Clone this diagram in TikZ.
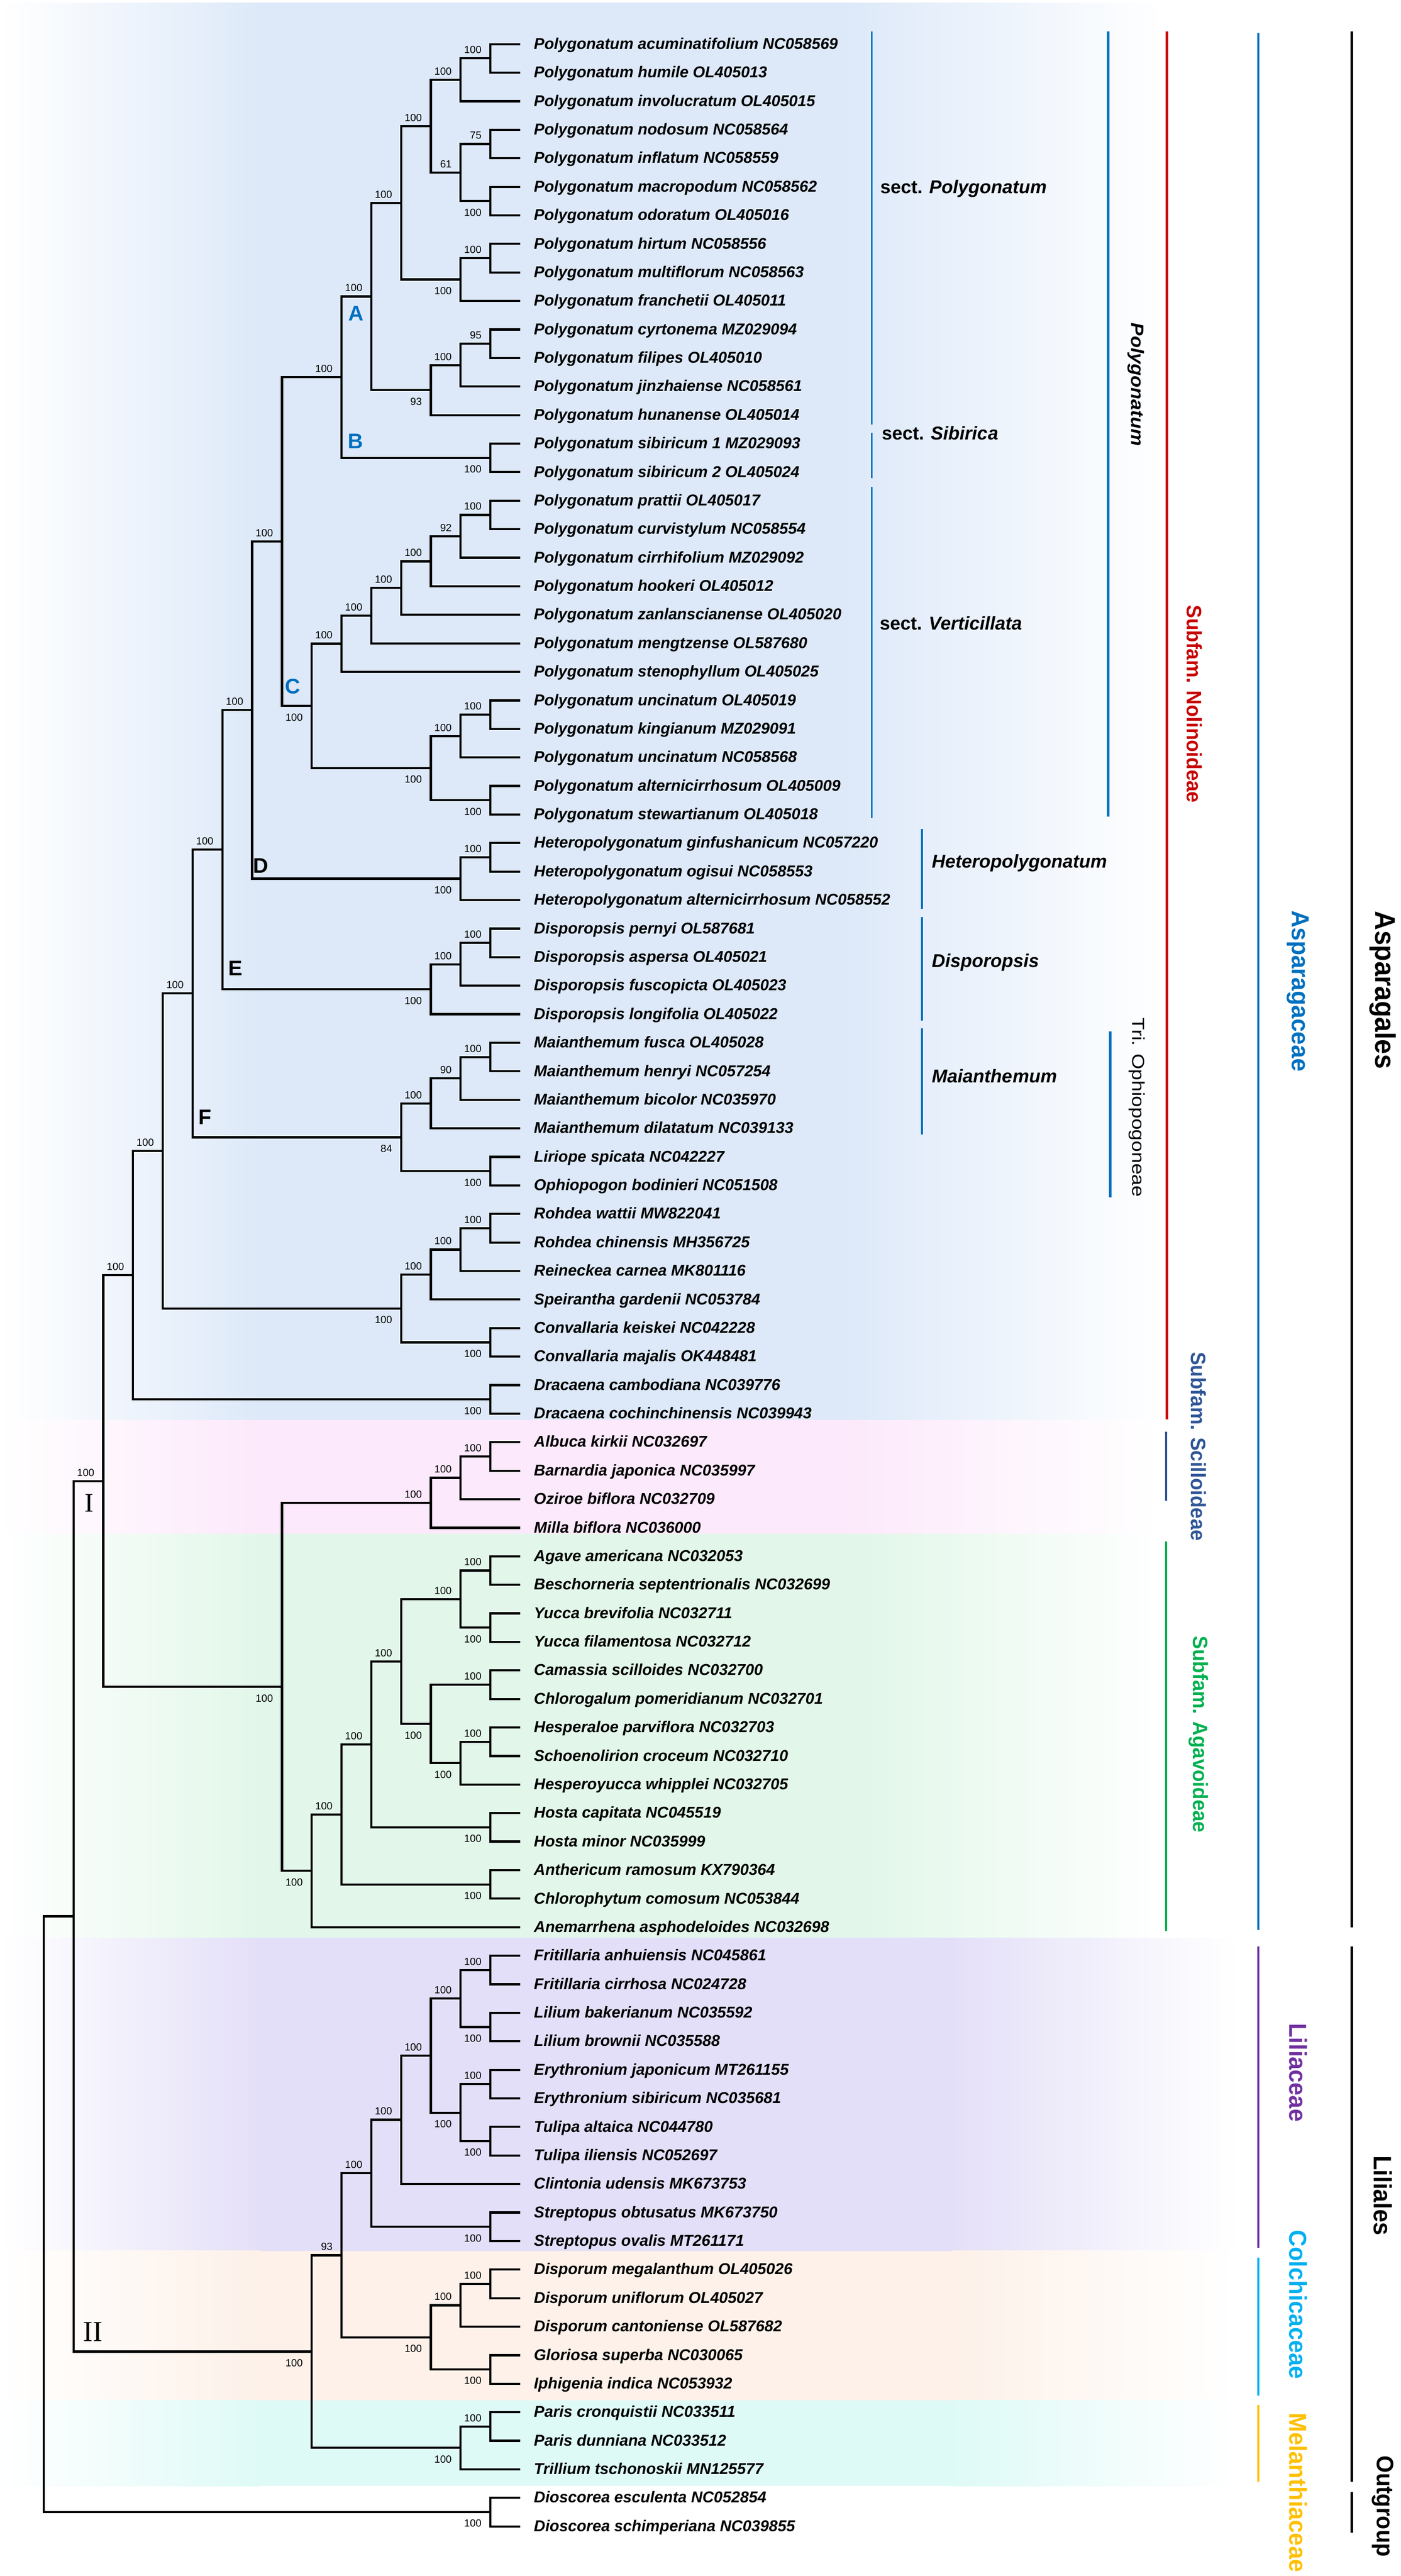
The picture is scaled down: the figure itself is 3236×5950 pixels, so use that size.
\documentclass[tikz,border=0pt]{standalone}
\usepackage{fontspec}
\usepackage{graphicx}
\setmainfont{Liberation Sans}
\newfontfamily\romfont{Liberation Serif}
\usetikzlibrary{calc}
\definecolor{bnol}{RGB}{221,233,249}
\definecolor{bscl}{RGB}{252,233,251}
\definecolor{bagv}{RGB}{226,247,233}
\definecolor{blil}{RGB}{228,223,248}
\definecolor{bcol}{RGB}{253,241,233}
\definecolor{bmel}{RGB}{222,250,247}
\definecolor{cblue}{RGB}{0,112,192}
\definecolor{cred}{RGB}{200,0,0}
\definecolor{cscl}{RGB}{47,85,151}
\definecolor{cagv}{RGB}{0,176,80}
\definecolor{clil}{RGB}{112,48,160}
\definecolor{ccol}{RGB}{0,176,240}
\definecolor{cmel}{RGB}{255,192,0}
\newcommand\bsfont{\fontsize{6.8}{8}\selectfont}
\newcommand\leaffont{\fontsize{10.33}{12}\selectfont\bfseries\itshape}
\newcommand\grpfont{\fontsize{12.2}{14}\selectfont\bfseries}
\newcommand\subfont{\fontsize{13.7}{16}\selectfont\bfseries}
\newcommand\famfont{\fontsize{16.1}{18}\selectfont\bfseries}
\newcommand\ltrfont{\fontsize{13.9}{16}\selectfont\bfseries}
\tikzset{
  br/.style={line width=0.5mm, line join=miter, line cap=butt},
  leaf/.style={anchor=base west, inner sep=0, font=\leaffont},
  bsa/.style={anchor=south east, inner sep=0, xshift=-2mm, yshift=1.05mm, font=\bsfont},
  bsb/.style={anchor=north east, inner sep=0, xshift=-2mm, yshift=-1.7mm, font=\bsfont},
  sbar/.style={line width=0.45mm, draw=cblue},
  fbar/.style={line width=0.55mm},
  obar/.style={line width=0.6mm, draw=black},
  rlab/.style={rotate=-90, inner sep=0, anchor=center},
  grp/.style={anchor=west, inner sep=0, font=\grpfont},
  ltr/.style={inner sep=0, font=\ltrfont},
}
\newcommand\Nd[5]{\coordinate (#1) at ({101+68.8*#2},{102+65.9*(#3-1)}); \node[bs#5] at (#1) {#4};}
\newcommand\Edg[3]{\draw[br] (#1) |- (#2); \draw[br] (#1) |- (#3);}
\newcommand\Lf[2]{\coordinate (t#1) at (1202,{102+65.9*(#1-1)}); \node[leaf] (l#1) at ([xshift=3.1mm,yshift=-1.15mm]t#1) {#2};}
\newcommand\band[5]{%
  \shade[left color=white,right color=#3] (0,#1) rectangle (602,#2);
  \fill[#3] (600,#1) rectangle ({#4+2},#2);
  \shade[left color=#3,right color=white] (#4,#1) rectangle (#5,#2);}
\begin{document}
\begin{tikzpicture}[x=0.1mm,y=-0.1mm]
\useasboundingbox (0,0) rectangle (3236,5950);
\fill[white] (0,0) rectangle (3236,5950);
% background bands
\band{6}{3280}{bnol}{1950}{2690}
\band{3280}{3543}{bscl}{1950}{2680}
\band{3543}{4476}{bagv}{2000}{2690}
\band{4476}{5199}{blil}{2200}{2860}
\band{5199}{5544}{bcol}{2200}{2860}
\band{5544}{5742}{bmel}{2200}{2860}
% leaves
\Lf{1}{Polygonatum acuminatifolium NC058569}
\Lf{2}{Polygonatum humile OL405013}
\Lf{3}{Polygonatum involucratum OL405015}
\Lf{4}{Polygonatum nodosum NC058564}
\Lf{5}{Polygonatum inflatum NC058559}
\Lf{6}{Polygonatum macropodum NC058562}
\Lf{7}{Polygonatum odoratum OL405016}
\Lf{8}{Polygonatum hirtum NC058556}
\Lf{9}{Polygonatum multiflorum NC058563}
\Lf{10}{Polygonatum franchetii OL405011}
\Lf{11}{Polygonatum cyrtonema MZ029094}
\Lf{12}{Polygonatum filipes OL405010}
\Lf{13}{Polygonatum jinzhaiense NC058561}
\Lf{14}{Polygonatum hunanense OL405014}
\Lf{15}{Polygonatum sibiricum 1 MZ029093}
\Lf{16}{Polygonatum sibiricum 2 OL405024}
\Lf{17}{Polygonatum prattii OL405017}
\Lf{18}{Polygonatum curvistylum NC058554}
\Lf{19}{Polygonatum cirrhifolium MZ029092}
\Lf{20}{Polygonatum hookeri OL405012}
\Lf{21}{Polygonatum zanlanscianense OL405020}
\Lf{22}{Polygonatum mengtzense OL587680}
\Lf{23}{Polygonatum stenophyllum OL405025}
\Lf{24}{Polygonatum uncinatum OL405019}
\Lf{25}{Polygonatum kingianum MZ029091}
\Lf{26}{Polygonatum uncinatum NC058568}
\Lf{27}{Polygonatum alternicirrhosum OL405009}
\Lf{28}{Polygonatum stewartianum OL405018}
\Lf{29}{Heteropolygonatum ginfushanicum NC057220}
\Lf{30}{Heteropolygonatum ogisui NC058553}
\Lf{31}{Heteropolygonatum alternicirrhosum NC058552}
\Lf{32}{Disporopsis pernyi OL587681}
\Lf{33}{Disporopsis aspersa OL405021}
\Lf{34}{Disporopsis fuscopicta OL405023}
\Lf{35}{Disporopsis longifolia OL405022}
\Lf{36}{Maianthemum fusca OL405028}
\Lf{37}{Maianthemum henryi NC057254}
\Lf{38}{Maianthemum bicolor NC035970}
\Lf{39}{Maianthemum dilatatum NC039133}
\Lf{40}{Liriope spicata NC042227}
\Lf{41}{Ophiopogon bodinieri NC051508}
\Lf{42}{Rohdea wattii MW822041}
\Lf{43}{Rohdea chinensis MH356725}
\Lf{44}{Reineckea carnea MK801116}
\Lf{45}{Speirantha gardenii NC053784}
\Lf{46}{Convallaria keiskei NC042228}
\Lf{47}{Convallaria majalis OK448481}
\Lf{48}{Dracaena cambodiana NC039776}
\Lf{49}{Dracaena cochinchinensis NC039943}
\Lf{50}{Albuca kirkii NC032697}
\Lf{51}{Barnardia japonica NC035997}
\Lf{52}{Oziroe biflora NC032709}
\Lf{53}{Milla biflora NC036000}
\Lf{54}{Agave americana NC032053}
\Lf{55}{Beschorneria septentrionalis NC032699}
\Lf{56}{Yucca brevifolia NC032711}
\Lf{57}{Yucca filamentosa NC032712}
\Lf{58}{Camassia scilloides NC032700}
\Lf{59}{Chlorogalum pomeridianum NC032701}
\Lf{60}{Hesperaloe parviflora NC032703}
\Lf{61}{Schoenolirion croceum NC032710}
\Lf{62}{Hesperoyucca whipplei NC032705}
\Lf{63}{Hosta capitata NC045519}
\Lf{64}{Hosta minor NC035999}
\Lf{65}{Anthericum ramosum KX790364}
\Lf{66}{Chlorophytum comosum NC053844}
\Lf{67}{Anemarrhena asphodeloides NC032698}
\Lf{68}{Fritillaria anhuiensis NC045861}
\Lf{69}{Fritillaria cirrhosa NC024728}
\Lf{70}{Lilium bakerianum NC035592}
\Lf{71}{Lilium brownii NC035588}
\Lf{72}{Erythronium japonicum MT261155}
\Lf{73}{Erythronium sibiricum NC035681}
\Lf{74}{Tulipa altaica NC044780}
\Lf{75}{Tulipa iliensis NC052697}
\Lf{76}{Clintonia udensis MK673753}
\Lf{77}{Streptopus obtusatus MK673750}
\Lf{78}{Streptopus ovalis MT261171}
\Lf{79}{Disporum megalanthum OL405026}
\Lf{80}{Disporum uniflorum OL405027}
\Lf{81}{Disporum cantoniense OL587682}
\Lf{82}{Gloriosa superba NC030065}
\Lf{83}{Iphigenia indica NC053932}
\Lf{84}{Paris cronquistii NC033511}
\Lf{85}{Paris dunniana NC033512}
\Lf{86}{Trillium tschonoskii MN125577}
\Lf{87}{Dioscorea esculenta NC052854}
\Lf{88}{Dioscorea schimperiana NC039855}
% internal nodes: sect. Polygonatum
\Nd{a12}{15}{1.5}{100}{a} \Edg{a12}{t1}{t2}
\Nd{a123}{14}{2.25}{100}{a} \Edg{a123}{a12}{t3}
\Nd{a45}{15}{4.5}{75}{a} \Edg{a45}{t4}{t5}
\Nd{a67}{15}{6.5}{100}{b} \Edg{a67}{t6}{t7}
\Nd{a47}{14}{5.5}{61}{a} \Edg{a47}{a45}{a67}
\Nd{a17}{13}{3.875}{100}{a} \Edg{a17}{a123}{a47}
\Nd{a89}{15}{8.5}{100}{a} \Edg{a89}{t8}{t9}
\Nd{a810}{14}{9.25}{100}{b} \Edg{a810}{a89}{t10}
\Nd{a110}{12}{6.5625}{100}{a} \Edg{a110}{a17}{a810}
\Nd{a1112}{15}{11.5}{95}{a} \Edg{a1112}{t11}{t12}
\Nd{a1113}{14}{12.25}{100}{a} \Edg{a1113}{a1112}{t13}
\Nd{a1114}{13}{13.125}{93}{b} \Edg{a1114}{a1113}{t14}
\Nd{cA}{11}{9.84375}{100}{a} \Edg{cA}{a110}{a1114}
\Nd{cB}{15}{15.5}{100}{b} \Edg{cB}{t15}{t16}
\Nd{cAB}{10}{12.671875}{100}{a} \Edg{cAB}{cA}{cB}
% sect. Verticillata
\Nd{c1718}{15}{17.5}{100}{a} \Edg{c1718}{t17}{t18}
\Nd{c1719}{14}{18.25}{92}{a} \Edg{c1719}{c1718}{t19}
\Nd{c1720}{13}{19.125}{100}{a} \Edg{c1720}{c1719}{t20}
\Nd{c1721}{12}{20.0625}{100}{a} \Edg{c1721}{c1720}{t21}
\Nd{c1722}{11}{21.03125}{100}{a} \Edg{c1722}{c1721}{t22}
\Nd{c1723}{10}{22.015625}{100}{a} \Edg{c1723}{c1722}{t23}
\Nd{c2425}{15}{24.5}{100}{a} \Edg{c2425}{t24}{t25}
\Nd{c2426}{14}{25.25}{100}{a} \Edg{c2426}{c2425}{t26}
\Nd{c2728}{15}{27.5}{100}{b} \Edg{c2728}{t27}{t28}
\Nd{c2428}{13}{26.375}{100}{b} \Edg{c2428}{c2426}{c2728}
\Nd{cC}{9}{24.1953125}{100}{b} \Edg{cC}{c1723}{c2428}
\Nd{cP}{8}{18.43359375}{100}{a} \Edg{cP}{cAB}{cC}
% D, E, F, G
\Nd{d2930}{15}{29.5}{100}{a} \Edg{d2930}{t29}{t30}
\Nd{cD}{14}{30.25}{100}{b} \Edg{cD}{d2930}{t31}
\Nd{cPD}{7}{24.341796875}{100}{a} \Edg{cPD}{cP}{cD}
\Nd{e3233}{15}{32.5}{100}{a} \Edg{e3233}{t32}{t33}
\Nd{e3234}{14}{33.25}{100}{a} \Edg{e3234}{e3233}{t34}
\Nd{cE}{13}{34.125}{100}{b} \Edg{cE}{e3234}{t35}
\Nd{cPDE}{6}{29.2333984375}{100}{a} \Edg{cPDE}{cPD}{cE}
\Nd{f3637}{15}{36.5}{100}{a} \Edg{f3637}{t36}{t37}
\Nd{f3638}{14}{37.25}{90}{a} \Edg{f3638}{f3637}{t38}
\Nd{f3639}{13}{38.125}{100}{a} \Edg{f3639}{f3638}{t39}
\Nd{f4041}{15}{40.5}{100}{b} \Edg{f4041}{t40}{t41}
\Nd{cF}{12}{39.3125}{84}{b} \Edg{cF}{f3639}{f4041}
\Nd{cPF}{5}{34.27294921875}{100}{a} \Edg{cPF}{cPDE}{cF}
\Nd{g4243}{15}{42.5}{100}{a} \Edg{g4243}{t42}{t43}
\Nd{g4244}{14}{43.25}{100}{a} \Edg{g4244}{g4243}{t44}
\Nd{g4245}{13}{44.125}{100}{a} \Edg{g4245}{g4244}{t45}
\Nd{g4647}{15}{46.5}{100}{b} \Edg{g4647}{t46}{t47}
\Nd{cG}{12}{45.3125}{100}{b} \Edg{cG}{g4245}{g4647}
\Nd{cPG}{4}{39.792724609375}{100}{a} \Edg{cPG}{cPF}{cG}
\Nd{dr}{15}{48.5}{100}{b} \Edg{dr}{t48}{t49}
\Nd{nol}{3}{44.1463623046875}{100}{a} \Edg{nol}{cPG}{dr}
% Scilloideae, Agavoideae
\Nd{s5051}{15}{50.5}{100}{a} \Edg{s5051}{t50}{t51}
\Nd{s5052}{14}{51.25}{100}{a} \Edg{s5052}{s5051}{t52}
\Nd{scl}{13}{52.125}{100}{a} \Edg{scl}{s5052}{t53}
\Nd{v5455}{15}{54.5}{100}{a} \Edg{v5455}{t54}{t55}
\Nd{v5657}{15}{56.5}{100}{b} \Edg{v5657}{t56}{t57}
\Nd{v5457}{14}{55.5}{100}{a} \Edg{v5457}{v5455}{v5657}
\Nd{v5859}{15}{58.5}{100}{a} \Edg{v5859}{t58}{t59}
\Nd{v6061}{15}{60.5}{100}{a} \Edg{v6061}{t60}{t61}
\Nd{v6062}{14}{61.25}{100}{b} \Edg{v6062}{v6061}{t62}
\Nd{v5862}{13}{59.875}{100}{b} \Edg{v5862}{v5859}{v6062}
\Nd{v5462}{12}{57.6875}{100}{a} \Edg{v5462}{v5457}{v5862}
\Nd{v6364}{15}{63.5}{100}{b} \Edg{v6364}{t63}{t64}
\Nd{v5464}{11}{60.59375}{100}{a} \Edg{v5464}{v5462}{v6364}
\Nd{v6566}{15}{65.5}{100}{b} \Edg{v6566}{t65}{t66}
\Nd{v5466}{10}{63.046875}{100}{a} \Edg{v5466}{v5464}{v6566}
\Nd{agv}{9}{65.0234375}{100}{b} \Edg{agv}{v5466}{t67}
\Nd{sa}{8}{58.57421875}{100}{b} \Edg{sa}{scl}{agv}
\Nd{asp}{2}{51.36029052734375}{100}{a} \Edg{asp}{nol}{sa}
% Liliales
\Nd{l6869}{15}{68.5}{100}{a} \Edg{l6869}{t68}{t69}
\Nd{l7071}{15}{70.5}{100}{b} \Edg{l7071}{t70}{t71}
\Nd{l6871}{14}{69.5}{100}{a} \Edg{l6871}{l6869}{l7071}
\Nd{l7273}{15}{72.5}{100}{a} \Edg{l7273}{t72}{t73}
\Nd{l7475}{15}{74.5}{100}{b} \Edg{l7475}{t74}{t75}
\Nd{l7275}{14}{73.5}{100}{b} \Edg{l7275}{l7273}{l7475}
\Nd{l6875}{13}{71.5}{100}{a} \Edg{l6875}{l6871}{l7275}
\Nd{l6876}{12}{73.75}{100}{a} \Edg{l6876}{l6875}{t76}
\Nd{l7778}{15}{77.5}{100}{b} \Edg{l7778}{t77}{t78}
\Nd{lil}{11}{75.625}{100}{a} \Edg{lil}{l6876}{l7778}
\Nd{k7980}{15}{79.5}{100}{a} \Edg{k7980}{t79}{t80}
\Nd{k7981}{14}{80.25}{100}{a} \Edg{k7981}{k7980}{t81}
\Nd{k8283}{15}{82.5}{100}{b} \Edg{k8283}{t82}{t83}
\Nd{col}{13}{81.375}{100}{b} \Edg{col}{k7981}{k8283}
\Nd{lc}{10}{78.5}{93}{a} \Edg{lc}{lil}{col}
\Nd{m8485}{15}{84.5}{100}{a} \Edg{m8485}{t84}{t85}
\Nd{mel}{14}{85.25}{100}{b} \Edg{mel}{m8485}{t86}
\Nd{lls}{9}{81.875}{100}{b} \Edg{lls}{lc}{mel}
\coordinate (al) at ({101+68.8},{102+65.9*65.617645}); \Edg{al}{asp}{lls}
\Nd{out}{15}{87.5}{100}{b} \Edg{out}{t87}{t88}
\coordinate (root) at (101,{102+65.9*76.058823}); \Edg{root}{al}{out}
% clade letters
\node[ltr, text=cblue] (labA) at (823,724) {A};
\node[ltr, text=cblue] (labB) at (821,1019) {B};
\node[ltr, text=cblue] (labC) at (676,1585) {C};
\node[ltr] (labD) at (603,2000) {D};
\node[ltr] (labE) at (544,2236) {E};
\node[ltr] (labF) at (474,2580) {F};
\node[inner sep=0, font=\romfont\fontsize{17.6}{20}\selectfont] (labI) at (206,3472) {I};
\node[inner sep=0, font=\romfont\fontsize{19}{22}\selectfont] (labII) at (215,5386) {II};
% sections and genera
\draw[sbar] (2014,73) -- (2014,981);
\draw[sbar] (2014,999) -- (2014,1104);
\draw[sbar] (2014,1125) -- (2014,1890);
\node[grp] (sP) at (2033,436) {sect. \textit{Polygonatum}};
\node[grp] (sS) at (2037,1000) {sect. \textit{Sibirica}};
\node[grp] (sV) at (2032,1439) {sect. \textit{Verticillata}};
\draw[sbar] (2130,1915) -- (2130,2099);
\draw[sbar] (2130,2118) -- (2130,2357);
\draw[sbar] (2130,2375) -- (2130,2620);
\node[grp, font=\grpfont\itshape] (gH) at (2152,1993) {Heteropolygonatum};
\node[grp, font=\grpfont\itshape] (gD) at (2152,2223) {Disporopsis};
\node[grp, font=\grpfont\itshape] (gM) at (2153,2485) {Maianthemum};
\draw[sbar, line width=0.55mm] (2560,73) -- (2560,1886);
\node[rlab] (gP) at (2624,888) {\scalebox{1.09}[1]{\fontsize{11.7}{14}\selectfont\bfseries\itshape Polygonatum}};
\draw[sbar, line width=0.55mm] (2565,2382) -- (2565,2765);
\node[rlab] (tO) at (2626,2558) {\scalebox{1.16}[1]{\fontsize{11.4}{14}\selectfont Tri. Ophiopogoneae}};
% subfamilies
\draw[fbar, draw=cred] (2696,73) -- (2696,3278);
\node[rlab, text=cred] (nN) at (2760,1626) {\scalebox{0.95}[1]{\subfont Subfam. Nolinoideae}};
\draw[fbar, draw=cscl] (2694,3307) -- (2694,3467);
\node[rlab, text=cscl] (nS) at (2769,3341) {\scalebox{0.95}[1]{\subfont Subfam. Scilloideae}};
\draw[fbar, draw=cagv] (2694,3561) -- (2694,4460);
\node[rlab, text=cagv] (nA) at (2769,4006) {\scalebox{0.95}[1]{\subfont Subfam. Agavoideae}};
% families
\draw[fbar, draw=cblue] (2907,76) -- (2907,4458);
\node[rlab, text=cblue] (fA) at (2999,2289) {\scalebox{0.97}[1]{\famfont Asparagaceae}};
\draw[fbar, draw=clil] (2907,4496) -- (2907,5192);
\node[rlab, text=clil] (fL) at (2999,4787) {\scalebox{0.95}[1]{\famfont Liliaceae}};
\draw[fbar, draw=ccol] (2907,5215) -- (2907,5534);
\node[rlab, text=ccol] (fC) at (2999,5323) {\scalebox{0.95}[1]{\famfont Colchicaceae}};
\draw[fbar, draw=cmel] (2907,5555) -- (2907,5732);
\node[rlab, text=cmel] (fM) at (2999,5757) {\scalebox{0.95}[1]{\famfont Melanthiaceae}};
% orders
\draw[obar] (3123,73) -- (3123,4452);
\node[rlab] (oA) at (3195,2287) {\scalebox{0.936}[1]{\fontsize{18.6}{22}\selectfont\bfseries Asparagales}};
\draw[obar] (3123,4496) -- (3123,5732);
\node[rlab] (oL) at (3195,5071) {\scalebox{0.936}[1]{\fontsize{16.5}{20}\selectfont\bfseries Liliales}};
\draw[obar] (3123,5756) -- (3123,5850);
\node[rlab] (oO) at (3195,5789) {\scalebox{0.936}[1]{\fontsize{15.6}{18}\selectfont\bfseries Outgroup}};
\end{tikzpicture}
\end{document}
